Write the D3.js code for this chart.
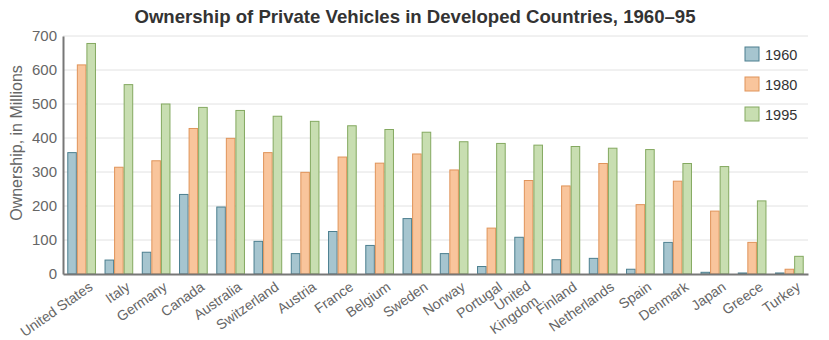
<!DOCTYPE html>
<html lang="en">
<head>
<meta charset="UTF-8">
<title>Ownership of Private Vehicles</title>
<style>
  body { margin: 0; background: #fff; }
  svg { display: block; font-family: "Liberation Sans", Arial, sans-serif; }
</style>
<script src="https://d3js.org/d3.v7.min.js"></script>
</head>
<body>
<svg id="chart" width="829" height="340"></svg>
<script>
// countries in plot order
const countries = ["United States", "Italy", "Germany", "Canada", "Australia", "Switzerland",
  "Austria", "France", "Belgium", "Sweden", "Norway", "Portugal", "United Kingdom",
  "Finland", "Netherlands", "Spain", "Denmark", "Japan", "Greece", "Turkey"];
const years = ["1960", "1980", "1995"];
const v1960 = [357, 41, 64, 234, 197, 96, 60, 125, 84, 163, 60, 22, 108, 42, 46, 14, 93, 5, 3, 3];
const v1980 = [615, 314, 333, 428, 399, 357, 299, 344, 326, 353, 306, 135, 275, 259, 325, 204, 273, 185, 93, 14];
const v1995 = [678, 557, 500, 490, 481, 464, 449, 436, 425, 417, 389, 384, 379, 375, 370, 366, 325, 316, 215, 52];
const yTicks = [0, 100, 200, 300, 400, 500, 600, 700];

const fills = ["#a6c5cf", "#f9c59c", "#c8deb1"];
const strokes = ["#4c7f8f", "#e0945a", "#84a960"];

const series = [v1960, v1980, v1995];
const svg = d3.select("#chart");
const margin = { left: 63, right: 21, top: 36, bottom: 66 };
const width = 829, height = 340;

const x0 = d3.scaleBand().domain(countries)
  .range([margin.left, width - margin.right])
  .paddingInner(0.23).paddingOuter(0.115);
const x1 = d3.scaleBand().domain(years).range([0, x0.bandwidth()]);
const y = d3.scaleLinear().domain([0, 700]).range([height - margin.bottom, margin.top]);

// gridlines
svg.append("g").selectAll("line").data(yTicks.slice(1)).enter().append("line")
  .attr("x1", margin.left).attr("x2", width - margin.right)
  .attr("y1", d => y(d)).attr("y2", d => y(d))
  .attr("stroke", "#e2e2e2").attr("stroke-width", 1);

// bars
const groups = svg.append("g").selectAll("g").data(countries).enter().append("g")
  .attr("transform", d => `translate(${x0(d)},0)`);
groups.selectAll("rect")
  .data((c, i) => years.map((yr, k) => ({ yr, k, v: series[k][i] })))
  .enter().append("rect")
  .attr("x", d => x1(d.yr) + 0.5)
  .attr("y", d => y(d.v))
  .attr("width", x1.bandwidth() - 1)
  .attr("height", d => y(0) - y(d.v))
  .attr("fill", d => fills[d.k])
  .attr("stroke", d => strokes[d.k])
  .attr("stroke-width", 1);

// y axis
const yAxis = svg.append("g")
  .attr("transform", `translate(${margin.left},0)`)
  .call(d3.axisLeft(y).tickValues(yTicks).tickSize(0).tickPadding(6));
yAxis.select(".domain").attr("stroke", "#777").attr("stroke-width", 2);
yAxis.selectAll("text").attr("fill", "#666").attr("font-size", 15)
  .attr("font-family", "Liberation Sans, Arial, sans-serif");

// x axis, labels slanted; the two-word UK label is split over two lines
const xAxis = svg.append("g")
  .attr("transform", `translate(0,${y(0)})`)
  .call(d3.axisBottom(x0).tickSize(0).tickFormat(""));
xAxis.select(".domain").attr("stroke", "#777").attr("stroke-width", 2);
xAxis.selectAll(".tick").each(function (d) {
  const lines = d === "United Kingdom"
    ? [["United", -9, -1], ["Kingdom", -1, 14]]
    : [[d, 0, 0]];
  lines.forEach(([ln, dx, dy]) => {
    d3.select(this).append("text")
      .attr("fill", "#666").attr("font-size", 14)
      .attr("text-anchor", "end")
      .attr("transform", `translate(${12 + dx},${15 + dy}) rotate(-35)`)
      .text(ln);
  });
});

// y axis title
svg.append("text")
  .attr("transform", `translate(22,143) rotate(-90)`)
  .attr("text-anchor", "middle")
  .attr("fill", "#666").attr("font-size", 16)
  .text("Ownership, in Millions");

// title
svg.append("text")
  .attr("x", 415).attr("y", 23)
  .attr("text-anchor", "middle")
  .attr("fill", "#333").attr("font-size", 18.6).attr("font-weight", "bold")
  .text("Ownership of Private Vehicles in Developed Countries, 1960\u201395");

// legend
const legend = svg.append("g").attr("transform", "translate(745,47)");
years.forEach((yr, k) => {
  const g = legend.append("g").attr("transform", `translate(0,${k * 30})`);
  g.append("rect").attr("width", 14).attr("height", 14)
    .attr("fill", fills[k]).attr("stroke", strokes[k]);
  g.append("text").attr("x", 20).attr("y", 13)
    .attr("fill", "#333").attr("font-size", 14.5).text(yr);
});
</script>
</body>
</html>
